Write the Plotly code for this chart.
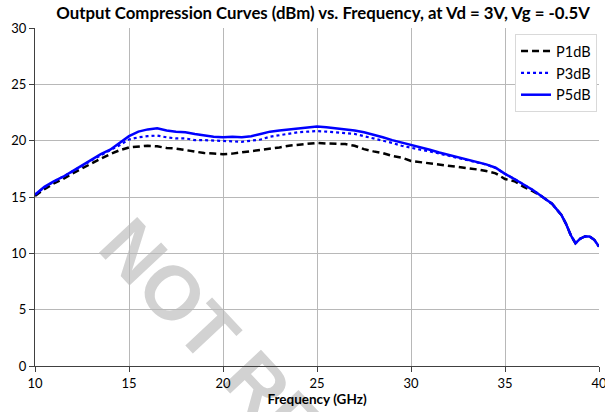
import plotly.graph_objects as go

# Frequency grid (GHz)
freq = [10.0, 10.5, 11.0, 11.5, 12.0, 12.5, 13.0, 13.5, 14.0, 14.5,
        15.0, 15.5, 16.0, 16.5, 17.0, 17.5, 18.0, 18.5, 19.0, 19.5,
        20.0, 20.5, 21.0, 21.5, 22.0, 22.5, 23.0, 23.5, 24.0, 24.5,
        25.0, 25.5, 26.0, 26.5, 27.0, 27.5, 28.0, 28.5, 29.0, 29.5,
        30.0, 30.5, 31.0, 31.5, 32.0, 32.5, 33.0, 33.5, 34.0, 34.5,
        35.0, 35.5, 36.0, 36.5, 37.0, 37.5, 38.0, 38.25, 38.5, 38.75,
        39.0, 39.25, 39.5, 39.75, 40.0]

# Output power at 1 dB compression (dBm)
p1db = [15.1, 15.7, 16.2, 16.6, 17.1, 17.55, 18.0, 18.4, 18.8, 19.15,
        19.4, 19.5, 19.55, 19.5, 19.35, 19.3, 19.15, 19.05, 18.9, 18.85,
        18.8, 18.85, 18.95, 19.05, 19.2, 19.25, 19.4, 19.55, 19.65, 19.75,
        19.8, 19.75, 19.75, 19.7, 19.55, 19.25, 19.05, 18.9, 18.65, 18.5,
        18.2, 18.1, 17.95, 17.85, 17.75, 17.7, 17.55, 17.45, 17.3, 17.1,
        16.6, 16.4, 15.9, 15.5, 15.0, 14.4, 13.4, 12.6, 11.6, 10.9,
        11.3, 11.5, 11.5, 11.2, 10.6]

# Output power at 3 dB compression (dBm)
p3db = [15.2, 15.85, 16.35, 16.8, 17.25, 17.75, 18.25, 18.7, 19.1, 19.6,
        20.1, 20.3, 20.4, 20.45, 20.3, 20.2, 20.2, 20.05, 20.05, 20.0,
        20.0, 19.95, 19.9, 20.0, 20.1, 20.35, 20.5, 20.6, 20.75, 20.8,
        20.85, 20.8, 20.75, 20.7, 20.6, 20.4, 20.2, 20.05, 19.8, 19.55,
        19.35, 19.2, 19.05, 18.85, 18.7, 18.45, 18.25, 18.08, 17.88, 17.58,
        17.05, 16.6, 16.1, 15.6, 15.0, 14.4, 13.4, 12.6, 11.6, 10.9,
        11.3, 11.5, 11.5, 11.2, 10.6]

# Output power at 5 dB compression (dBm)
p5db = [15.2, 15.9, 16.4, 16.8, 17.3, 17.8, 18.3, 18.8, 19.2, 19.8,
        20.4, 20.8, 21.0, 21.1, 20.9, 20.8, 20.75, 20.6, 20.45, 20.35,
        20.3, 20.35, 20.3, 20.4, 20.6, 20.8, 20.9, 21.0, 21.1, 21.2,
        21.25, 21.2, 21.1, 21.05, 20.9, 20.75, 20.55, 20.3, 20.05, 19.85,
        19.6, 19.4, 19.2, 18.95, 18.75, 18.5, 18.3, 18.1, 17.9, 17.6,
        17.05, 16.6, 16.1, 15.6, 15.0, 14.4, 13.4, 12.6, 11.6, 10.9,
        11.3, 11.5, 11.5, 11.2, 10.6]

x_ticks = [10, 15, 20, 25, 30, 35, 40]
y_ticks = [0, 5, 10, 15, 20, 25, 30]

BASE_FONT = "Lato"
GRID = "#b8b8b8"

fig = go.Figure()
fig.add_trace(go.Scatter(x=freq, y=p1db, mode="lines", name="P1dB",
                         line=dict(color="black", width=2.5, dash="7px,4px")))
fig.add_trace(go.Scatter(x=freq, y=p3db, mode="lines", name="P3dB",
                         line=dict(color="#0000ff", width=2.2, dash="dot")))
fig.add_trace(go.Scatter(x=freq, y=p5db, mode="lines", name="P5dB",
                         line=dict(color="#0000ff", width=2.5)))

# Diagonal watermark, drawn as the label of an invisible line shape
fig.add_shape(
    type="line", xref="paper", yref="paper",
    x0=0.5098, y0=-0.2287, x1=0.7516, y1=-0.6612,
    line=dict(width=0, color="rgba(0,0,0,0)"),
    layer="below",
    label=dict(text="<b>NOT RECOMMENDED</b>", textposition="middle",
               yanchor="middle",
               font=dict(family="Liberation Sans", size=76, color="#d2d2d2")),
)

fig.update_layout(
    width=605, height=412,
    margin=dict(l=35, r=6, t=28, b=46),
    paper_bgcolor="white", plot_bgcolor="rgba(0,0,0,0)",
    font=dict(family=BASE_FONT, size=12, color="black"),
    title=dict(text="<b>Output Compression Curves (dBm) vs. Frequency, at Vd = 3V, Vg = -0.5V</b>",
               x=0.534, xanchor="center", y=0.968, yanchor="middle",
               font=dict(family=BASE_FONT, size=16.8, color="black")),
    showlegend=True,
    legend=dict(x=0.9965, y=0.982, xanchor="right", yanchor="top",
                bgcolor="white", bordercolor="#d9d9d9", borderwidth=1,
                font=dict(family=BASE_FONT, size=14.5)),
    xaxis=dict(range=[10, 40], tickvals=x_ticks, ticktext=[str(v) for v in x_ticks],
               showgrid=True, gridcolor=GRID, gridwidth=1,
               showline=True, linecolor="#404040", linewidth=1,
               ticks="outside", ticklen=5, tickcolor="#404040",
               tickfont=dict(size=13), zeroline=False,
               ticklabeloverflow="allow", automargin=False,
               title=dict(text="<b>Frequency (GHz)</b>", standoff=4,
                          font=dict(size=13.5))),
    yaxis=dict(range=[0, 30], tickvals=y_ticks, ticktext=[str(v) for v in y_ticks],
               showgrid=True, gridcolor=GRID, gridwidth=1,
               showline=True, linecolor="#404040", linewidth=1,
               ticks="outside", ticklen=5, tickcolor="#404040",
               tickfont=dict(size=13), zeroline=False, automargin=False),
)

fig.write_html("out.html")
